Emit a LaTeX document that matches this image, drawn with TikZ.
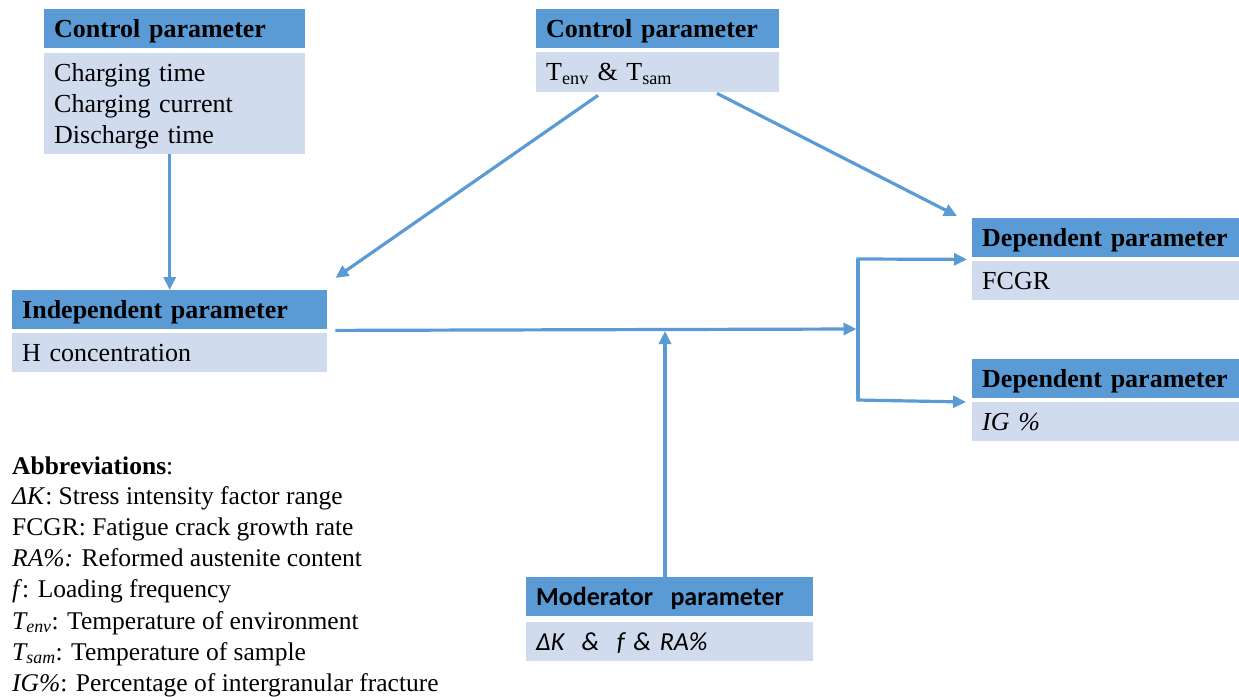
\documentclass[tikz,border=0pt]{standalone}
\usepackage{fontspec}
\setmainfont{Liberation Serif}
\newfontfamily\calfont{Carlito}
\usetikzlibrary{arrows.meta,calc}
\definecolor{hdrblue}{HTML}{5B9BD5}
\definecolor{bodyblue}{HTML}{D0DCEE}
\definecolor{arrblue}{HTML}{5B9BD5}
\begin{document}
\begin{tikzpicture}[x=1pt,y=-1pt,
  every node/.style={font=\fontsize{26pt}{31pt}\selectfont},
  hdr/.style={fill=hdrblue, draw=none, inner xsep=10pt, inner ysep=0pt, text depth=0pt, align=left, minimum height=39pt, anchor=north west, font=\fontsize{26pt}{31pt}\selectfont\bfseries},
  bdym/.style={fill=bodyblue, draw=none, inner xsep=10pt, inner ysep=0pt, align=left, anchor=north west},
  bdy/.style={bdym, text depth=0pt},
  abbr/.style={anchor=base west, inner sep=0pt, font=\fontsize{25.5pt}{31pt}\selectfont},
  conn/.style={draw=arrblue, line width=3.2pt},
  arr/.style={conn, -{Triangle[length=13pt,width=12pt]}}
]
\useasboundingbox (0,0) rectangle (1239,696);

% Control parameter (left)
\node[hdr, text width=241pt] (c1h) at (44,9) {Control parameter};
\node[bdym, text width=241pt, minimum height=101pt] (c1b) at (44,53) {};
\node[anchor=north west, inner xsep=10pt, inner ysep=0pt, align=left, text width=241pt, minimum height=101pt, yshift=-3pt] (c1txt) at (44,53) {Charging time\\Charging current\\Discharge time};

% Control parameter (top)
\node[hdr, text width=223pt] (c2h) at (536,9) {Control parameter};
\node[bdy, text width=223pt, minimum height=40pt] (c2b) at (536,52) {T\textsubscript{env} \& T\textsubscript{sam}};

% Independent parameter
\node[hdr, text width=295pt] (ih) at (12,290) {Independent parameter};
\node[bdy, text width=295pt, minimum height=39pt] (ib) at (12,333) {H concentration};

% Dependent parameters
\node[hdr, text width=247pt] (d1h) at (972,218) {Dependent parameter};
\node[bdy, text width=247pt, minimum height=39pt] (d1b) at (972,261) {FCGR};
\node[hdr, text width=247pt] (d2h) at (972,359) {Dependent parameter};
\node[bdy, text width=247pt, minimum height=39pt] (d2b) at (972,402) {\itshape IG \%};

% Moderator parameter
\node[hdr, text width=267pt, font=\fontsize{26pt}{31pt}\selectfont\calfont\bfseries] (mh) at (526,577) {Moderator~ parameter};
\node[bdy, text width=267pt, minimum height=39pt, font=\fontsize{26pt}{31pt}\selectfont\calfont\itshape] (mb) at (526,622) {ΔK~ \& ~f \& RA\%};

% Abbreviations
\node[abbr] (ab0) at (12,474) {\textbf{Abbreviations}:};
\node[abbr] (ab1) at (12,504) {\textit{ΔK}: Stress intensity factor range};
\node[abbr] (ab2) at (12,535) {FCGR: Fatigue crack growth rate};
\node[abbr] (ab3) at (12,566) {\textit{RA\%:} Reformed austenite content};
\node[abbr] (ab4) at (12,597) {\textit{f}: Loading frequency};
\node[abbr] (ab5) at (12,629) {\textit{T\textsubscript{env}}: Temperature of environment};
\node[abbr] (ab6) at (12,660) {\textit{T\textsubscript{sam}}: Temperature of sample};
\node[abbr] (ab7) at (12,691) {\textit{IG\%}: Percentage of intergranular fracture};

% Coordinates
\coordinate (s2) at ($(c2b.south west)+(62,3)$);
\coordinate (s3) at ($(c2b.south west)+(181,1)$);
\coordinate (t2) at ($(ih.north east)+(8,-12)$);
\coordinate (t3) at ($(d1h.north west)+(-15,-2)$);
\coordinate (hs) at ($(ih.south east)+(8,1)$);
\coordinate (jn) at (858,329);
\coordinate (jt) at (858,259);
\coordinate (jb) at (858,400);
\coordinate (mt) at (665,331);

% Connectors
\draw[arr] (c1b.south -| ih.north) -- (ih.north);
\draw[arr] (s2) -- (t2);
\draw[arr] (s3) -- (t3);
\draw[arr] (hs) -- ($(jn)+(-1.5,0)$);
\draw[conn] (jt) -- (jb);
\draw[arr] ($(jt)+(-1.6,0)$) -- ($(d1h.south west)+(-5,2)$);
\draw[arr] ($(jb)+(-1.6,0)$) -- ($(d2b.north west)+(-6,0)$);
\draw[arr] (mh.north -| mt) -- (mt);
\end{tikzpicture}
\end{document}
